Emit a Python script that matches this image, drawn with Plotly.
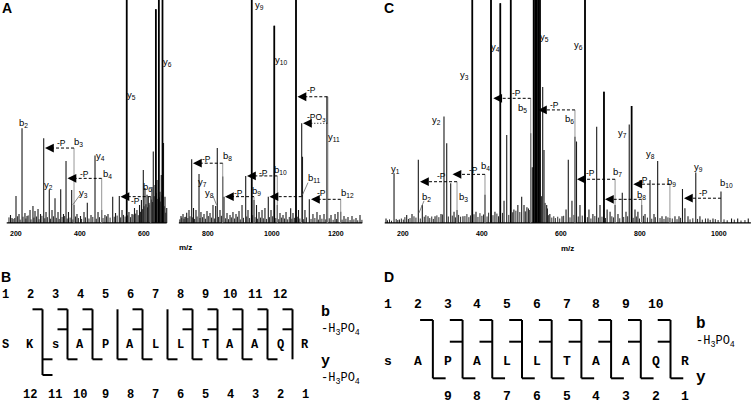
import plotly.graph_objects as go

# ---------------- DATA ----------------
# Panel A spectrum (m/z, relative intensity; >100 = off scale)
A_mz = [182.8, 187.5, 200.0, 209.4, 218.8, 228.0, 234.4, 243.8, 253.0, 259.4,
        268.8, 276.6, 286.6, 293.8, 304.0, 312.5, 321.9, 331.3, 339.7, 348.4,
        356.3, 364.0, 374.0, 381.3, 390.6, 401.6, 412.5, 422.8, 434.4, 446.9,
        456.3, 467.8, 478.0, 487.5, 502.2, 511.0, 522.8, 531.3, 545.9, 553.0,
        562.5, 570.3, 578.0, 586.0, 592.0, 597.8, 603.0, 609.4, 613.4, 621.0,
        625.0, 629.0, 634.4, 637.0, 640.6, 646.3, 650.0, 654.0, 657.8, 661.0,
        665.6, 671.0, 715.6, 721.9, 728.0, 733.4, 740.6, 749.0, 754.7, 762.5,
        771.9, 778.0, 787.5, 796.9, 806.3, 815.6, 824.0, 829.0, 837.5, 846.0,
        850.0, 859.4, 868.8, 878.0, 887.5, 896.9, 906.3, 917.8, 925.0, 936.6,
        943.8, 951.6, 959.4, 968.8, 978.0, 988.4, 996.9, 1007.2, 1016.6, 1025.0,
        1034.4, 1043.8, 1058.4, 1065.6, 1075.0, 1082.8, 1092.8, 1095.3, 1103.0, 1116.6,
        1128.0, 1140.6, 1150.0, 1162.5, 1172.8, 1184.4, 1197.0, 1206.0, 1214.7, 1225.0,
        1237.5, 1250.0, 1262.5, 1275.0]
A_int = [3.6, 2.2, 12.1, 4.0, 42.5, 4.5, 3.1, 5.8, 7.6, 5.4,
         6.3, 4.0, 38.0, 4.9, 14.8, 5.8, 11.1, 4.9, 15.1, 4.0,
         27.8, 4.9, 14.8, 8.1, 4.0, 3.1, 4.9, 9.1, 3.6, 30.2,
         4.9, 5.8, 3.6, 4.0, 11.8, 4.5, 12.1, 5.8, 130, 4.9,
         4.0, 6.7, 5.8, 8.1, 10.3, 23.8, 15.7, 12.6, 11.8, 11.8,
         16.1, 32.0, 17.0, 95.8, 19.3, 130, 14.0, 21.5, 130, 35.9,
         11.8, 6.7, 3.1, 4.0, 2.7, 4.6, 5.8, 28.6, 6.7, 5.8,
         22.0, 4.9, 4.0, 5.4, 4.5, 8.1, 7.6, 33.6, 5.8, 20.8,
         11.8, 4.5, 3.6, 4.9, 4.0, 5.4, 8.1, 21.1, 5.8, 130,
         10.3, 8.1, 4.9, 5.8, 6.7, 11.8, 5.8, 88.5, 8.1, 4.5,
         3.6, 4.9, 6.6, 4.5, 130, 5.8, 44.7, 29.7, 5.8, 10.6,
         4.0, 4.9, 3.6, 4.0, 56.6, 3.6, 4.0, 4.9, 5.0, 3.1,
         2.7, 3.1, 2.2, 3.6]
A_strong = [545.9, 637.0, 646.3, 657.8, 936.6, 1007.2, 1075.0, 1172.8]
A_noise_mz = [178, 191, 196, 205, 213, 222, 231, 238, 247, 256,
              264, 272, 281, 290, 298, 308, 317, 326, 335, 344,
              352, 360, 369, 378, 386, 395, 405, 417, 428, 440,
              451, 461, 472, 483, 494, 507, 516, 527, 536, 541,
              549, 558, 566, 574, 582, 589, 595, 600, 606, 611,
              616, 619, 623, 627, 632, 639, 643, 648, 652, 656,
              659, 663, 668,
              712, 718, 725, 731, 737, 744, 752, 758, 766, 775,
              783, 792, 801, 811, 820, 833, 842, 855, 864, 873,
              883, 892, 901, 911, 921, 930, 940, 947, 955, 964,
              973, 983, 992, 1002, 1012, 1021, 1030, 1039, 1049, 1054,
              1062, 1070, 1079, 1087, 1099, 1108, 1122, 1134, 1145, 1156,
              1168, 1179, 1191, 1202, 1219, 1231, 1244, 1256, 1268, 1281]
A_noise_int = [2.5, 1.8, 2.2, 3.0, 1.5, 2.8, 2.0, 3.4, 1.6, 2.4,
               2.9, 1.7, 3.2, 2.1, 2.6, 1.9, 3.0, 2.3, 1.8, 2.7,
               3.1, 2.0, 2.4, 1.6, 2.9, 2.2, 1.8, 2.5, 2.0, 2.7,
               1.9, 2.6, 2.2, 3.0, 2.4, 2.8, 3.3, 2.5, 3.6, 2.9,
               3.4, 2.6, 3.8, 4.2, 3.5, 5.0, 6.2, 7.5, 8.4, 7.0,
               9.0, 8.2, 10.5, 9.4, 12.0, 13.5, 10.8, 11.5, 9.6, 12.4,
               8.8, 7.5, 4.6,
               1.6, 2.4, 1.9, 2.8, 2.2, 3.0, 2.5, 1.8, 2.9, 2.2,
               2.6, 1.9, 3.1, 2.4, 2.0, 2.7, 3.2, 2.1, 1.7, 2.5,
               2.0, 2.8, 1.6, 2.3, 2.9, 2.2, 3.5, 2.6, 1.9, 2.4,
               2.1, 1.8, 2.6, 3.0, 2.2, 1.7, 2.4, 2.0, 1.6, 2.7,
               1.9, 2.3, 2.8, 2.0, 1.7, 2.5, 1.8, 2.2, 1.5, 1.9,
               1.6, 2.1, 1.4, 1.8, 1.5, 1.9, 1.3, 1.6, 1.2, 1.4]
A_ticks = [200, 400, 600, 800, 1000, 1200]

# Panel A neutral-loss arrows
A_loss_from = [381.3, 467.8, 621.0, 846.0, 943.8, 1016.6, 1092.8, 1172.8, 1172.8, 1214.7]
A_loss_to = [290.6, 360.9, 526.6, 753.0, 853.0, 921.9, 992.2, 1079.7, 1096.9, 1121.9]
A_loss_lev = [33.6, 20.0, 11.8, 26.8, 11.8, 21.1, 11.8, 56.6, 44.7, 10.6]
A_loss_txt = ["-P", "-P", "-P", "-P", "-P", "-P", "", "-P", "-PO<sub>3</sub>", "-P"]
A_loss_tx = [342.8, 415.6, 571.9, 795.9, 894.7, 972.8, None, 1124.0, 1140.6, 1155.3]
A_loss_ty = [35.7, 22.0, 9.9, 28.6, 13.6, 22.6, None, 59.6, 47.4, 13.3]
A_loss_dash = ["dash", "dash", "dash", "dash", "dash", "dash", "dash", "dash", "dot", "dash"]

# Panel A ion labels
A_lab = ["b2", "y2", "b3", "y3", "y4", "b4", "y5", "b6", "y6", "y7",
         "y8", "b8", "y9", "b9", "y10", "b10", "b11", "y11", "b12"]
A_lab_mz = [221.9, 303.0, 393.8, 410.3, 462.5, 484.4, 561.6, 609.4, 672.8, 783.4,
            804.0, 859.4, 960.3, 953.0, 1027.2, 1028.0, 1131.0, 1194.7, 1234.4]
A_lab_int = [44.8, 17.0, 36.5, 13.6, 30.2, 21.8, 57.4, 16.3, 72.3, 18.5,
             13.6, 30.0, 97.8, 14.3, 73.1, 23.8, 20.3, 38.7, 13.3]
A_lead_x = [(400.0, 377.2), (815.6, 826.6), (1112.5, 1095.3)]
A_lead_y = [(12.6, 8.1), (12.1, 8.1), (18.1, 12.6)]

# Panel C spectrum
C_mz = [156.2, 176.5, 190.0, 208.6, 222.0, 238.0, 248.1, 262.5, 280.3, 295.4,
        303.0, 309.9, 320.0, 328.4, 336.0, 351.0, 374.7, 384.0, 406.8, 422.0,
        432.0, 445.6, 455.0, 461.8, 472.0, 480.0, 490.0, 499.7, 505.6, 513.0,
        522.5, 526.5, 530.0, 534.0, 538.0, 542.0, 546.0, 552.9, 556.2, 563.0,
        571.0, 601.8, 612.0, 617.7, 627.0, 634.6, 638.5, 647.3, 660.0, 670.0,
        680.0, 689.6, 698.0, 708.0, 716.0, 723.5, 736.2, 743.5, 754.4, 763.8,
        772.0, 778.0, 786.6, 794.0, 803.5, 812.0, 824.6, 834.7, 844.0, 855.0,
        865.0, 875.0, 887.8, 898.0, 906.8, 913.0, 920.8, 940.5, 951.0, 971.4,
        984.0, 1004.3, 1031.0, 1046.6, 1073.4]
C_int = [2.0, 22.3, 1.5, 3.6, 4.0, 28.3, 8.1, 3.0, 3.0, 4.0,
         47.7, 35.7, 17.8, 5.0, 5.8, 3.0, 130, 5.0, 12.6, 130,
         5.0, 98.5, 10.0, 39.5, 130, 6.0, 8.0, 11.8, 8.0, 7.0,
         40.2, 25.0, 130, 130, 130, 130, 130, 61.0, 32.7, 8.0,
         4.0, 3.0, 6.0, 28.3, 10.0, 38.7, 36.5, 8.0, 130, 6.0,
         4.0, 43.2, 8.0, 58.9, 6.0, 5.0, 8.1, 4.0, 13.6, 5.0,
         44.2, 52.5, 6.0, 5.0, 8.0, 4.0, 19.3, 4.0, 27.8, 3.0,
         3.0, 2.2, 3.0, 3.0, 15.2, 6.6, 3.0, 22.6, 3.0, 2.0,
         2.0, 14.1, 2.0, 2.0, 2.0]
C_strong = [374.7, 422.0, 445.6, 472.0, 530.0, 534.0, 538.0, 542.0, 546.0, 660.0, 708.0, 778.0]
C_noise_mz = [160, 165, 170, 182, 186, 195, 200, 204, 213, 217,
              227, 232, 243, 253, 257, 267, 272, 276, 285, 290,
              299, 314, 324, 332, 340, 345, 356, 361, 366, 370,
              379, 389, 394, 399, 403, 412, 416, 427, 437, 441,
              451, 467, 477, 485, 495, 509, 517, 519, 550, 559,
              565, 568, 576, 581, 585, 591, 596, 606, 622, 632,
              643, 653, 666, 675, 685, 694, 703, 712, 728, 732,
              748, 758, 768, 782, 790, 798, 808, 818, 829, 838,
              850, 860, 870, 881, 893, 902, 926, 933, 945, 957,
              965, 977, 990, 997, 1012, 1020, 1038, 1055, 1065]
C_noise_int = [1.2, 1.6, 1.0, 1.8, 1.3, 2.0, 1.5, 2.6, 1.8, 2.2,
               3.0, 2.4, 2.0, 2.8, 3.5, 2.2, 2.9, 1.8, 3.4, 2.6,
               3.8, 2.9, 3.3, 2.5, 3.6, 2.8, 3.1, 4.0, 2.6, 3.4,
               3.9, 2.7, 4.4, 3.2, 3.8, 2.9, 4.6, 3.5, 4.2, 3.0,
               4.5, 3.6, 4.8, 5.5, 4.9, 5.2, 6.5, 5.8, 12.0, 9.0,
               6.5, 3.5, 2.4, 3.0, 2.2, 2.8, 2.0, 3.2, 2.5, 3.6,
               2.9, 3.3, 2.6, 2.0, 3.1, 2.4, 2.8, 2.2, 3.0, 2.5,
               2.1, 2.7, 3.0, 2.3, 2.9, 2.0, 3.2, 2.4, 1.9, 2.6,
               2.2, 1.8, 2.5, 2.0, 1.7, 2.3, 1.6, 2.1, 1.8, 1.5,
               2.0, 1.4, 1.7, 1.3, 1.6, 1.2, 1.5, 1.1, 1.3]
C_ticks = [200, 400, 600, 800, 1000]

C_loss_from = [336.0, 406.8, 522.5, 634.6, 736.2, 803.5, 875.0, 1004.3]
C_loss_to = [242.3, 324.6, 427.8, 541.0, 639.7, 710.6, 782.3, 910.6]
C_loss_lev = [18.5, 21.8, 55.9, 50.7, 19.6, 10.6, 17.4, 11.1]
C_loss_txt = ["-P", "-P", "-P", "-P", "-P", "", "-P", "-P"]
C_loss_tx = [297.2, 377.2, 487.1, 584.0, 672.7, None, 807.6, 959.5]
C_loss_ty = [21.1, 23.8, 58.4, 52.9, 22.6, None, 19.3, 13.6]

C_lab = ["y1", "b2", "y2", "b3", "y3", "b4", "y4", "b5", "y5", "b6",
         "y6", "b7", "y7", "b8", "y8", "b9", "y9", "b10"]
C_lab_mz = [180.3, 259.2, 284.6, 351.9, 354.4, 409.0, 432.2, 503.0, 557.0, 622.0,
            643.0, 743.5, 755.4, 804.3, 824.6, 880.0, 946.8, 1019.5]
C_lab_int = [24.2, 11.5, 46.2, 11.8, 66.4, 25.7, 79.1, 51.4, 83.5, 46.6,
             79.8, 23.0, 40.2, 12.6, 30.9, 18.5, 25.2, 17.8]
C_lead_x = [(252.4, 239.7)]
C_lead_y = [(9.9, 4.5)]

# Fragmentation maps
B_seq = ["S", "K", "s", "A", "P", "A", "L", "L", "T", "A", "A", "Q", "R"]
B_b = [2, 3, 4, 6, 8, 9, 10, 11, 12]
B_bP = [3, 4, 6, 8, 9, 10, 11, 12]
B_y = [11, 10, 9, 8, 7, 6, 5, 4, 3, 2]
B_yP = [11]
D_seq = ["s", "A", "P", "A", "L", "L", "T", "A", "A", "Q", "R"]
D_b = [2, 3, 4, 5, 6, 7, 8, 9, 10]
D_bP = [3, 4, 5, 6, 7, 8, 9, 10]
D_y = [9, 8, 7, 6, 5, 4, 3, 2, 1]
D_yP = []

# ---------------- LAYOUT CONSTANTS ----------------
W, H = 751, 406
PX_A = 0.32     # px per m/z in A
PX_C = 0.395    # px per m/z in C
AX_FONT = "Liberation Sans, Arial, sans-serif"
MONO = "Liberation Mono, Courier New, monospace"

fig = go.Figure()
annotations = []


def note(**kw):
    kw.setdefault("showarrow", False)
    kw.setdefault("xanchor", "center")
    kw.setdefault("yanchor", "middle")
    annotations.append(kw)


def sticks(mz, inten):
    xs, ys = [], []
    for m, v in zip(mz, inten):
        xs += [m, m, None]
        ys += [0, v, None]
    return xs, ys


def add_spectrum(mz, inten, nmz, nint, strong, xa, ya):
    x, y = sticks(nmz, nint)
    fig.add_trace(go.Scatter(x=x, y=y, mode="lines", xaxis=xa, yaxis=ya,
                             line=dict(color="#2a2a2a", width=1), hoverinfo="skip"))
    x, y = sticks(mz, inten)
    fig.add_trace(go.Scatter(x=x, y=y, mode="lines", xaxis=xa, yaxis=ya,
                             line=dict(color="#1a1a1a", width=1.1), hoverinfo="skip"))
    lookup = dict(zip(mz, inten))
    x, y = sticks(strong, [lookup[m] for m in strong])
    fig.add_trace(go.Scatter(x=x, y=y, mode="lines", xaxis=xa, yaxis=ya,
                             line=dict(color="black", width=1.7), hoverinfo="skip"))


add_spectrum(A_mz, A_int, A_noise_mz, A_noise_int, A_strong, "x", "y")
add_spectrum(C_mz, C_int, C_noise_mz, C_noise_int, C_strong, "x2", "y2")

# baselines
fig.add_trace(go.Scatter(x=[171, 671, None, 709, 1282], y=[0, 0, None, 0, 0], mode="lines",
                         xaxis="x", yaxis="y", line=dict(color="black", width=1.2), hoverinfo="skip"))
fig.add_trace(go.Scatter(x=[153, 1080], y=[0, 0], mode="lines",
                         xaxis="x2", yaxis="y2", line=dict(color="black", width=1.2), hoverinfo="skip"))


def add_losses(frm, to, lev, txt, tx, ty, dash, xa, ya, pxper):
    dx = 7 / pxper
    for i in range(len(frm)):
        fig.add_trace(go.Scatter(x=[frm[i], frm[i]], y=[0, lev[i]], mode="lines", xaxis=xa, yaxis=ya,
                                 line=dict(color="#8a8a8a", width=0.9), hoverinfo="skip"))
        fig.add_trace(go.Scatter(x=[frm[i], to[i] + dx], y=[lev[i], lev[i]], mode="lines",
                                 xaxis=xa, yaxis=ya,
                                 line=dict(color="black", width=1,
                                           dash="3px,2px" if dash[i] == "dash" else "1px,2px"),
                                 hoverinfo="skip"))
        annotations.append(dict(x=to[i], y=lev[i], ax=to[i] + dx, ay=lev[i], xref=xa, yref=ya,
                                axref=xa, ayref=ya, text="", showarrow=True, arrowhead=2,
                                arrowsize=1.1, arrowwidth=1.6, arrowcolor="black"))
        if txt[i]:
            note(x=tx[i], y=ty[i], xref=xa, yref=ya, text=txt[i],
                 font=dict(family=AX_FONT, size=8.5, color="black"))


add_losses(A_loss_from, A_loss_to, A_loss_lev, A_loss_txt, A_loss_tx, A_loss_ty, A_loss_dash, "x", "y", PX_A)
add_losses(C_loss_from, C_loss_to, C_loss_lev, C_loss_txt, C_loss_tx, C_loss_ty,
           ["dash"] * len(C_loss_from), "x2", "y2", PX_C)


def add_labels(lab, lx, ly, leadx, leady, xa, ya):
    for t, x, y in zip(lab, lx, ly):
        note(x=x, y=y, xref=xa, yref=ya, text=f"{t[0]}<sub>{t[1:]}</sub>",
             font=dict(family=AX_FONT, size=9.5, color="black"))
    for xs, ys in zip(leadx, leady):
        fig.add_trace(go.Scatter(x=list(xs), y=list(ys), mode="lines", xaxis=xa, yaxis=ya,
                                 line=dict(color="#666", width=0.8), hoverinfo="skip"))


add_labels(A_lab, A_lab_mz, A_lab_int, A_lead_x, A_lead_y, "x", "y")
add_labels(C_lab, C_lab_mz, C_lab_int, C_lead_x, C_lead_y, "x2", "y2")

# tick labels
tickfont = dict(family=AX_FONT, size=7, color="black", weight="bold")
for v in A_ticks:
    note(x=v, y=1 - 233 / H, xref="x", yref="paper", text=str(v), font=tickfont)
for v in C_ticks:
    note(x=v, y=1 - 233 / H, xref="x2", yref="paper", text=str(v), font=tickfont)

# ---------------- fragmentation maps ----------------
LEV = {
    "B": dict(num=295, b=309.3, bP=329.3, seq=345, y=359.3, yP=375, bot=395, arm=0.4,
              lb=312, lbP=330, ly=361, lyP=379, lx=12.55, fs=12),
    "D": dict(num=304, b=320, bP=341.7, seq=361.7, y=378.3, yP=394, bot=396.7, arm=0.43,
              lb=324, lbP=342, ly=377.5, lyP=394, lx=10.3, fs=13),
}


def add_map(key, seq, bobs, bPobs, yobs, yPobs, xa, ya):
    L = LEV[key]
    n = len(seq)
    xs, ys = [], []
    for c in range(2, n):
        xc = c - 0.5
        yion = n - c
        bottom = L["yP"] if yion in yPobs else L["y"]
        xs += [xc, xc, None]
        ys += [L["b"], bottom, None]
        if c in bobs:
            xs += [xc - L["arm"], xc, None]
            ys += [L["b"], L["b"], None]
        if c in bPobs:
            xs += [xc - L["arm"], xc, None]
            ys += [L["bP"], L["bP"], None]
        if yion in yobs:
            xs += [xc, xc + L["arm"], None]
            ys += [L["y"], L["y"], None]
        if yion in yPobs:
            xs += [xc, xc + L["arm"], None]
            ys += [L["yP"], L["yP"], None]
    fig.add_trace(go.Scatter(x=xs, y=ys, mode="lines", xaxis=xa, yaxis=ya,
                             line=dict(color="black", width=2), hoverinfo="skip"))
    f = dict(family=MONO, size=L["fs"], color="black", weight="bold")
    for i, aa in enumerate(seq):
        note(x=i, y=L["seq"], xref=xa, yref=ya, text=aa, font=f)
    for k in range(1, n):
        note(x=k - 1, y=L["num"], xref=xa, yref=ya, text=str(k), font=f)
    for j in range(1, max(yobs) + 2 if key == "B" else max(yobs) + 1):
        note(x=n - j, y=L["bot"], xref=xa, yref=ya, text=str(j), font=f)
    fb = dict(family=MONO, size=L["fs"] + 3, color="black", weight="bold")
    fs = dict(family=MONO, size=12, color="black")
    note(x=L["lx"], y=L["lb"], xref=xa, yref=ya, text="b", xanchor="left", font=fb)
    note(x=L["lx"], y=L["lbP"], xref=xa, yref=ya, text="-H<sub>3</sub>PO<sub>4</sub>",
         xanchor="left", font=fs)
    note(x=L["lx"], y=L["ly"], xref=xa, yref=ya, text="y", xanchor="left", font=fb)
    if yPobs:
        note(x=L["lx"], y=L["lyP"], xref=xa, yref=ya, text="-H<sub>3</sub>PO<sub>4</sub>",
             xanchor="left", font=fs)


add_map("B", B_seq, B_b, B_bP, B_y, B_yP, "x3", "y3")
add_map("D", D_seq, D_b, D_bP, D_y, D_yP, "x4", "y4")

# panel letters and axis titles
for t, px, py in [("A", 7, 8), ("C", 389, 8), ("B", 6, 277), ("D", 389, 277)]:
    note(x=px / W, y=1 - py / H, xref="paper", yref="paper", text=t,
         font=dict(family=AX_FONT, size=14, color="black", weight="bold"))
for px, py in [(185, 247), (567, 248)]:
    note(x=px / W, y=1 - py / H, xref="paper", yref="paper", text="m/z",
         font=dict(family=AX_FONT, size=8, color="black", weight="bold"))

ydom = [1 - 226.3 / H, 1]
hidden = dict(visible=False, showgrid=False, zeroline=False, fixedrange=True)
fig.update_layout(
    width=W, height=H, margin=dict(l=0, r=0, t=0, b=0),
    paper_bgcolor="white", plot_bgcolor="rgba(0,0,0,0)", showlegend=False,
    xaxis=dict(domain=[6 / W, 364 / W], range=[168.75, 1287.5], anchor="y", **hidden),
    yaxis=dict(domain=ydom, range=[-1.5, 100], anchor="x", **hidden),
    xaxis2=dict(domain=[384 / W, 1], range=[151.1, 1080.3], anchor="y2", **hidden),
    yaxis2=dict(domain=ydom, range=[-1.5, 100], anchor="x2", **hidden),
    xaxis3=dict(domain=[0, 375 / W], range=[-0.2, 14.8], anchor="y3", **hidden),
    yaxis3=dict(domain=[0, 1], range=[H, 0], anchor="x3", **hidden),
    xaxis4=dict(domain=[375 / W, 1], range=[-0.448, 12.21], anchor="y4", **hidden),
    yaxis4=dict(domain=[0, 1], range=[H, 0], anchor="x4", **hidden),
    annotations=annotations,
)

fig.write_html("out.html", config={"staticPlot": True},
               post_script="document.body.style.margin='0px';document.body.style.overflow='hidden';")
